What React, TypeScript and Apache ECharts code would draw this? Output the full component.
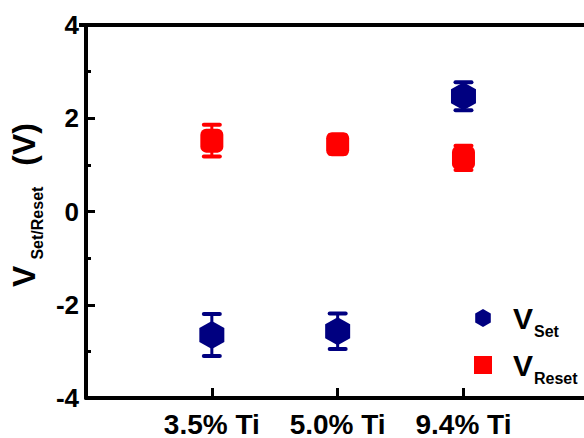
import React, { useEffect, useRef } from "react";
import * as echarts from "echarts";

const categories = ["3.5% Ti", "5.0% Ti", "9.4% Ti"];
const vSet = [-2.65, -2.57, 2.47];
const vSetErr = [0.45, 0.38, 0.3];
const vReset = [1.52, 1.44, 1.15];
const vResetErr = [0.34, 0.2, 0.26];
const yMin = -4;
const yMax = 4;
const yStep = 2;

const FONT = "Liberation Sans";
const NAVY = "#000080";
const RED = "#ff0000";
const INK = "#000";
const HEX = "path://M0,-1 L0.866,-0.5 L0.866,0.5 L0,1 L-0.866,0.5 L-0.866,-0.5 Z";

function errData(vals: number[], errs: number[]) {
  return vals.map((v, i) => [i + 1, v - errs[i], v + errs[i]]);
}

function errRender(color: string) {
  return (params: any, api: any) => {
    const x = api.value(0);
    const lo = api.coord([x, api.value(1)]);
    const hi = api.coord([x, api.value(2)]);
    const cw = 8;
    const style = { stroke: color, lineWidth: 4, lineCap: "round" };
    return {
      type: "group",
      children: [
        { type: "line", shape: { x1: lo[0], y1: lo[1], x2: hi[0], y2: hi[1] }, style: { stroke: color, lineWidth: 3 } },
        { type: "line", shape: { x1: lo[0] - cw, y1: lo[1], x2: lo[0] + cw, y2: lo[1] }, style },
        { type: "line", shape: { x1: hi[0] - cw, y1: hi[1], x2: hi[0] + cw, y2: hi[1] }, style },
      ],
    };
  };
}

export default function App() {
  const ref = useRef<HTMLDivElement>(null);
  useEffect(() => {
    const chart = echarts.init(ref.current!, null, { renderer: "svg" });
    chart.setOption({
      animation: false,
      backgroundColor: "#fff",
      grid: { left: 81, top: 25, bottom: 40, right: 0 },
      graphic: [
        { type: "line", shape: { x1: 79, y1: 25, x2: 620, y2: 25 }, style: { stroke: INK, lineWidth: 4 } },
      ],
      legend: {
        orient: "vertical",
        left: 469,
        top: 298,
        itemWidth: 18,
        itemHeight: 18,
        itemGap: 11,
        selectedMode: false,
        data: [
          { name: "VSet", icon: HEX, itemStyle: { color: NAVY } },
          { name: "VReset", icon: "rect", itemStyle: { color: RED } },
        ],
        formatter: (n: string) => `{v|V}{s|${n.slice(1)}}`,
        textStyle: {
          rich: {
            v: { fontFamily: FONT, fontWeight: "bold", fontSize: 30, lineHeight: 30, verticalAlign: "top", padding: [0, 0, 0, 16], color: "#000" },
            s: { fontFamily: FONT, fontWeight: "bold", fontSize: 16, lineHeight: 16, verticalAlign: "top", padding: [20, 0, 0, 1], color: "#000" },
          },
        },
      },
      xAxis: {
        type: "value",
        min: 0,
        max: 4.244,
        interval: 1,
        axisLine: { show: true, onZero: false, lineStyle: { color: INK, width: 4 } },
        splitLine: { show: false },
        minorSplitLine: { show: false },
        axisTick: { show: true, inside: true, length: 10, lineStyle: { color: INK, width: 3 } },
        axisLabel: {
          margin: 12,
          fontFamily: FONT,
          fontWeight: "bold",
          fontSize: 28,
          color: "#000",
          showMaxLabel: false,
          formatter: (v: number) => (Number.isInteger(v) ? categories[v - 1] ?? "" : ""),
        },
      },
      yAxis: {
        type: "value",
        min: yMin,
        max: yMax,
        interval: yStep,
        axisLine: { show: true, onZero: false, lineStyle: { color: INK, width: 4 } },
        splitLine: { show: false },
        axisTick: { show: true, inside: true, length: 9, lineStyle: { color: INK, width: 3 } },
        minorTick: { show: true, splitNumber: 2, length: 5, lineStyle: { color: INK, width: 3 } },
        axisLabel: { margin: 7, fontFamily: FONT, fontWeight: "bold", fontSize: 26, color: "#000" },
        name: "{v|V}{s|Set/Reset}{p| (V)}",
        nameLocation: "middle",
        nameGap: 44,
        nameRotate: 90,
        nameTextStyle: {
          rich: {
            v: { fontFamily: FONT, fontWeight: "bold", fontSize: 32, lineHeight: 32, verticalAlign: "top", padding: [0, 6, 0, 13], color: "#000" },
            s: { fontFamily: FONT, fontWeight: "bold", fontSize: 16, lineHeight: 16, verticalAlign: "top", padding: [21, 12, 0, 0], color: "#000" },
            p: { fontFamily: FONT, fontWeight: "bold", fontSize: 32, lineHeight: 32, verticalAlign: "top", color: "#000" },
          },
        },
      },
      series: [
        { type: "custom", name: "errSet", data: errData(vSet, vSetErr), renderItem: errRender(NAVY), z: 1 },
        { type: "custom", name: "errReset", data: errData(vReset, vResetErr), renderItem: errRender(RED), z: 1 },
        {
          type: "scatter",
          name: "VSet",
          data: vSet.map((v, i) => [i + 1, v]),
          symbol: HEX,
          symbolSize: [25, 28],
          itemStyle: { color: NAVY, opacity: 1 },
          z: 3,
        },
        {
          type: "scatter",
          name: "VReset",
          data: vReset.map((v, i) => [i + 1, v]),
          symbol: "roundRect",
          symbolSize: [23, 24],
          itemStyle: { color: RED, opacity: 1 },
          z: 3,
        },
      ],
    });
    return () => chart.dispose();
  }, []);
  return (
    <div style={{ position: "fixed", left: 0, top: 0, width: 584, height: 438, overflow: "hidden" }}>
      <div ref={ref} style={{ width: 620, height: 438 }} />
    </div>
  );
}
